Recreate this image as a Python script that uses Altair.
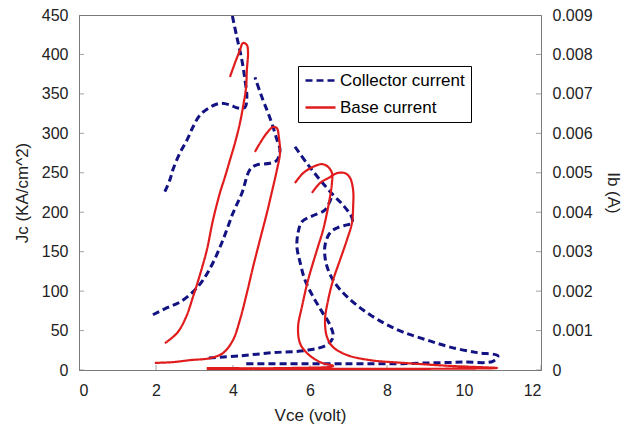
import altair as alt
import pandas as pd

# ---------------- data ----------------
x_ticks = [0, 2, 4, 6, 8, 10, 12]
jc_ticks = [0, 50, 100, 150, 200, 250, 300, 350, 400, 450]
ib_ticks = [0, 0.001, 0.002, 0.003, 0.004, 0.005, 0.006, 0.007, 0.008, 0.009]
series_names = ["Collector current", "Base current"]

# Collector current loops (Vce in volt, Jc in KA/cm^2)
ca_v = [2.23, 2.36, 2.44, 2.62, 2.81, 2.96, 3.14, 3.40, 3.66, 3.92, 4.13, 4.31, 4.36, 4.31, 4.23, 4.10, 3.97]
ca_j = [226, 241, 254, 275, 292, 308, 323, 333, 338, 336, 332, 333, 346, 368, 393, 422, 452]

cb_v = [1.92, 2.29, 2.62, 2.96, 3.22, 3.48, 3.74, 4.00, 4.23, 4.44, 4.62, 4.96, 5.14, 5.22, 5.14, 5.04, 4.91, 4.78, 4.57]
cb_j = [70, 79, 86, 99, 114, 136, 165, 199, 224, 254, 260, 262, 266, 279, 292, 308, 326, 342, 371]

cc_v = [5.61, 5.92, 6.26, 6.60, 6.86, 7.09, 7.09, 6.96, 6.70, 6.52, 6.39, 6.39, 6.47, 6.65, 6.96, 7.38, 7.90, 8.42,
        9.04, 9.64, 10.34, 10.88, 10.75, 9.97, 9.12, 8.26, 7.38, 6.52, 5.48, 4.26]
cc_j = [283, 262, 241, 222, 209, 193, 186, 184, 180, 174, 158, 143, 127, 110, 93, 76, 60, 48,
        38, 29, 22, 18, 11, 10, 9, 8, 8, 8, 8, 8]

cd_v = [6.55, 6.39, 6.05, 5.79, 5.69, 5.66, 5.74, 5.87, 6.08, 6.31, 6.52, 6.60, 6.44, 5.92, 5.04, 4.18, 3.35]
cd_j = [218, 203, 195, 188, 174, 156, 137, 114, 93, 74, 57, 42, 32, 25, 22, 18, 15]

# Base current loops (Vce in volt, Ib in A)
r1_v = [3.92, 4.05, 4.18, 4.26, 4.36, 4.39, 4.36, 4.34, 4.26, 4.18, 4.05, 3.92, 3.79, 3.66, 3.48, 3.32, 3.14,
        2.96, 2.78, 2.55, 2.23]
r1_i = [0.00743, 0.00778, 0.00811, 0.00829, 0.00824, 0.00804, 0.00761, 0.00717, 0.00667, 0.00626, 0.00575,
        0.00532, 0.00489, 0.00449, 0.00380, 0.00304, 0.00241, 0.00185, 0.00134, 0.00094, 0.00068]

r2_v = [4.57, 4.70, 4.88, 5.04, 5.14, 5.19, 5.22, 5.14, 5.04, 4.88, 4.70, 4.52, 4.36, 4.18, 4.00, 3.74, 3.40,
        2.88, 2.44, 1.97]
r2_i = [0.00553, 0.00575, 0.00601, 0.00616, 0.00613, 0.00591, 0.00550, 0.00507, 0.00464, 0.00398, 0.00330,
        0.00261, 0.00195, 0.00127, 0.00076, 0.00043, 0.00030, 0.00025, 0.00020, 0.00018]

r3_v = [5.61, 5.82, 6.08, 6.31, 6.47, 6.57, 6.57, 6.52, 6.44, 6.34, 6.18, 5.95, 5.79, 5.69, 5.74, 5.92, 6.26,
        6.60, 5.48, 3.32]
r3_i = [0.00474, 0.00499, 0.00515, 0.00522, 0.00515, 0.00499, 0.00474, 0.00439, 0.00398, 0.00355, 0.00304,
        0.00228, 0.00160, 0.00109, 0.00068, 0.00043, 0.00020, 0.00010, 0.00005, 0.00005]

r4_v = [6.05, 6.26, 6.52, 6.70, 6.91, 7.04, 7.12, 7.12, 7.09, 6.96, 6.78, 6.60, 6.47, 6.39, 6.44, 6.60, 6.96,
        7.56, 8.42, 9.71, 10.86, 3.32]
r4_i = [0.00449, 0.00474, 0.00489, 0.00499, 0.00499, 0.00487, 0.00456, 0.00413, 0.00373, 0.00330, 0.00279,
        0.00228, 0.00177, 0.00127, 0.00084, 0.00058, 0.00038, 0.00025, 0.00018, 0.00010, 0.00005, 0.00003]

# ---------------- tables ----------------
def build(curves, field, series):
    rows = []
    for name, vs, ys in curves:
        for i, (v, y) in enumerate(zip(vs, ys)):
            rows.append({"vce": v, field: y, "curve": name, "i": i, "series": series})
    return pd.DataFrame(rows)

df_c = build([("A", ca_v, ca_j), ("B", cb_v, cb_j), ("C", cc_v, cc_j), ("D", cd_v, cd_j)], "jc", series_names[0])
df_b = build([("1", r1_v, r1_i), ("2", r2_v, r2_i), ("3", r3_v, r3_i), ("4", r4_v, r4_i)], "ib", series_names[1])

W, H = 462, 355
FONT = "Liberation Sans"
NAVY = "#121282"
RED = "#e01c1c"
AX = "#7a7a7a"

xscale = alt.Scale(domain=[0, 12], nice=False, zero=False)
jscale = alt.Scale(domain=[0, 450], nice=False)
iscale = alt.Scale(domain=[0, 0.009], nice=False)

x_axis = alt.Axis(values=x_ticks, title="Vce (volt)", labelPadding=12, titlePadding=9)
j_axis = alt.Axis(values=jc_ticks, title="Jc (KA/cm^2)", labelPadding=11, titlePadding=10)
i_axis = alt.Axis(orient="right", values=ib_ticks, title="Ib (A)",
                  labelExpr="datum.value == 0 ? '0' : format(datum.value, '.3f')",
                  labelPadding=11, titlePadding=11)

color = alt.Color("series:N", scale=alt.Scale(domain=series_names, range=[NAVY, RED]),
                  legend=alt.Legend(title=None))
dash = alt.StrokeDash("series:N", scale=alt.Scale(domain=series_names, range=[[7, 4], [1, 0]]),
                      legend=alt.Legend(title=None))

blue = alt.Chart(df_c).mark_line(strokeWidth=3, clip=True, interpolate="catmull-rom").encode(
    x=alt.X("vce:Q", scale=xscale, axis=x_axis),
    y=alt.Y("jc:Q", scale=jscale, axis=j_axis),
    color=color,
    strokeDash=dash,
    detail="curve:N",
    order=alt.Order("i:Q"),
)

xt = alt.Chart(pd.DataFrame({"vce": x_ticks})).mark_tick(
    orient="vertical", size=10, thickness=1, color=AX, clip=True
).encode(x=alt.X("vce:Q", scale=xscale, axis=x_axis), y=alt.value(H))

lt = alt.Chart(pd.DataFrame({"jc": jc_ticks})).mark_tick(
    orient="horizontal", size=10, thickness=1, color=AX, clip=True
).encode(y=alt.Y("jc:Q", scale=jscale, axis=j_axis), x=alt.value(0))

red = alt.Chart(df_b).mark_line(strokeWidth=2.2, clip=True, interpolate="catmull-rom").encode(
    x=alt.X("vce:Q", scale=xscale, axis=x_axis),
    y=alt.Y("ib:Q", scale=iscale, axis=i_axis),
    color=color,
    strokeDash=dash,
    detail="curve:N",
    order=alt.Order("i:Q"),
)

rt = alt.Chart(pd.DataFrame({"ib": ib_ticks})).mark_tick(
    orient="horizontal", size=10, thickness=1, color=AX, clip=True
).encode(y=alt.Y("ib:Q", scale=iscale, axis=i_axis), x=alt.value(W))

left = alt.layer(blue, xt, lt)
right = alt.layer(red, rt)

chart = alt.layer(left, right).resolve_scale(y="independent").properties(
    width=W, height=H,
    autosize=alt.AutoSizeParams(type="none"),
    padding={"left": 79, "top": 15, "right": 90, "bottom": 58},
    background="white",
).configure_view(
    stroke=AX, strokeWidth=1
).configure_axis(
    labelFont=FONT, labelFontSize=16, labelColor="#222222",
    titleFont=FONT, titleFontSize=17, titleFontWeight="normal", titleColor="#222222",
    domainColor=AX, ticks=False, grid=False,
).configure_legend(
    orient="none", legendX=219, legendY=51,
    strokeColor="black", fillColor="white", padding=6,
    symbolType="M-3,0H3", symbolSize=100, symbolOffset=8, symbolStrokeWidth=2.6,
    labelFont=FONT, labelFontSize=17, labelColor="black", labelOffset=11, rowPadding=9,
)

chart.save("out.html", embed_options={"renderer": "svg", "actions": False})
